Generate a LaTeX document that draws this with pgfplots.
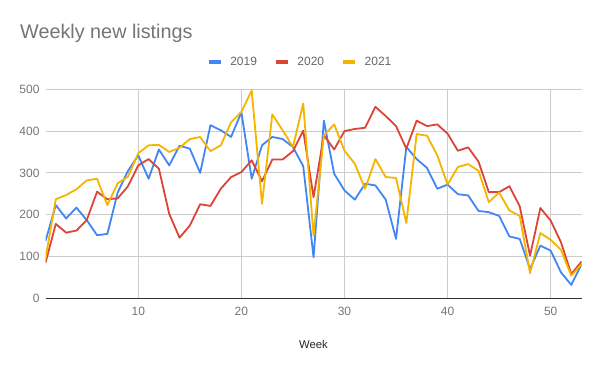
\documentclass[border=0pt]{standalone}
\usepackage{pgfplots}
\pgfplotsset{compat=1.18}
\usepackage{fontspec}
\setmainfont{Liberation Sans}
\definecolor{gblue}{HTML}{4285F4}
\definecolor{gred}{HTML}{DB4437}
\definecolor{gyellow}{HTML}{F4B400}
\definecolor{titlegray}{HTML}{757575}
\definecolor{tickgray}{HTML}{757575}
\definecolor{gridgray}{HTML}{CCCCCC}
\begin{document}
\begin{tikzpicture}
\path[use as bounding box] (0pt,0pt) rectangle (600pt,371pt);
\node[anchor=base west, inner sep=0pt, font=\fontsize{19.8}{22}\selectfont, text=titlegray] at (20pt,332pt) {Weekly new listings};
\begin{axis}[
  at={(45.5pt,72.7pt)}, anchor=south west,
  scale only axis, width=536.1pt, height=209pt,
  xmin=1, xmax=53, ymin=0, ymax=500,
  xtick={10,20,30,40,50}, ytick={0,100,200,300,400,500},
  /pgf/number format/assume math mode=true,
  tick label style={font=\fontsize{12}{14}\selectfont, text=tickgray},
  xticklabel style={yshift=-5pt},
  yticklabel style={xshift=-2.5pt},
  major tick length=0pt,
  grid=major, major grid style={gridgray, line width=0.8pt},
  axis line style={draw=none},
  extra y ticks={0}, extra y tick labels={},
  extra y tick style={grid=major, major grid style={black!80, line width=1pt}},
  xlabel={Week},
  xlabel style={at={(axis description cs:0.5,0)}, anchor=center, yshift=-45.7pt, font=\fontsize{11.3}{13}\selectfont, text=black!85},
  legend columns=-1,
  legend style={at={(0.473,1.131)}, anchor=center, draw=none, fill=none,
    font=\fontsize{12}{14}\selectfont, text=black!60,
    nodes={inner sep=0pt},
    /tikz/every odd column/.append style={column sep=8pt},
    /tikz/every even column/.append style={column sep=17pt}},
  legend image code/.code={\draw[line width=3.5pt] (0pt,0pt) -- (12pt,0pt);},
  every axis plot/.append style={line width=1.8pt, line join=round, mark=none},
]
\addplot[gblue] coordinates {
(1,137)(2,223)(3,191)(4,217)(5,187)(6,151)(7,154)(8,253)(9,305)(10,342)
(11,286)(12,356)(13,318)(14,365)(15,358)(16,300)(17,414)(18,402)(19,386)(20,445)
(21,286)(22,366)(23,386)(24,381)(25,362)(26,316)(27,98)(28,425)(29,298)(30,258)
(31,236)(32,274)(33,270)(34,236)(35,142)(36,362)(37,333)(38,312)(39,262)(40,272)
(41,249)(42,246)(43,209)(44,206)(45,197)(46,148)(47,142)(48,70)(49,126)(50,114)
(51,62)(52,32)(53,82)};
\addlegendentry{2019}
\addplot[gred] coordinates {
(1,85)(2,178)(3,157)(4,162)(5,187)(6,255)(7,237)(8,239)(9,268)(10,318)
(11,333)(12,310)(13,202)(14,145)(15,174)(16,225)(17,221)(18,262)(19,290)(20,302)
(21,330)(22,280)(23,332)(24,332)(25,352)(26,401)(27,242)(28,390)(29,356)(30,400)
(31,405)(32,408)(33,458)(34,436)(35,412)(36,358)(37,425)(38,412)(39,416)(40,394)
(41,353)(42,361)(43,327)(44,254)(45,254)(46,268)(47,220)(48,102)(49,216)(50,186)
(51,134)(52,58)(53,88)};
\addlegendentry{2020}
\addplot[gyellow] coordinates {
(1,95)(2,237)(3,247)(4,261)(5,282)(6,286)(7,223)(8,275)(9,291)(10,347)
(11,366)(12,367)(13,350)(14,360)(15,381)(16,386)(17,352)(18,366)(19,421)(20,446)
(21,497)(22,226)(23,440)(24,402)(25,362)(26,466)(27,150)(28,390)(29,416)(30,353)
(31,322)(32,262)(33,333)(34,290)(35,288)(36,180)(37,393)(38,389)(39,342)(40,272)
(41,314)(42,321)(43,305)(44,230)(45,253)(46,210)(47,197)(48,60)(49,156)(50,140)
(51,116)(52,54)(53,82)};
\addlegendentry{2021}
\end{axis}
\end{tikzpicture}
\end{document}
